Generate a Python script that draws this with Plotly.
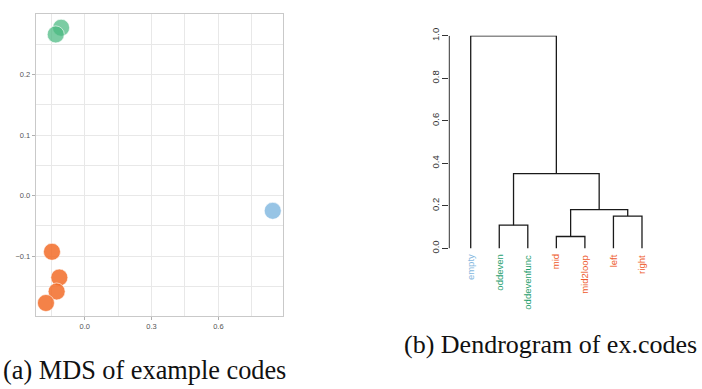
import plotly.graph_objects as go

# ---------------- data: MDS scatter ----------------
mds_x = [-0.106, -0.130, 0.844, -0.147, -0.114, -0.126, -0.174]
mds_y = [0.277, 0.266, -0.025, -0.0925, -0.135, -0.158, -0.177]
mds_group = ["green", "green", "blue", "orange", "orange", "orange", "orange"]

# ---------------- data: dendrogram ----------------
leaf_labels = ["empty", "oddeven", "oddevenfunc", "mid", "mid2loop", "left", "right"]
leaf_group = ["blue", "green", "green", "orange", "orange", "orange", "orange"]
# merges: (left child, right child, height); leaves are "L<i>", clusters "C<j>"
merges = [
    ("L1", "L2", 0.109),
    ("L3", "L4", 0.056),
    ("L5", "L6", 0.152),
    ("C1", "C2", 0.182),
    ("C0", "C3", 0.352),
    ("L0", "C4", 1.000),
]

point_colors = {"green": "rgba(72,184,128,0.72)", "blue": "rgba(140,190,226,0.9)",
                "orange": "rgba(242,108,40,0.85)"}
label_colors = {"green": "#1fa06e", "blue": "#86b8de", "orange": "#ee5a2c"}

fig = go.Figure()

# scatter
for g in ["green", "blue", "orange"]:
    xs = [x for x, gg in zip(mds_x, mds_group) if gg == g]
    ys = [y for y, gg in zip(mds_y, mds_group) if gg == g]
    fig.add_trace(go.Scatter(x=xs, y=ys, mode="markers", xaxis="x", yaxis="y",
                             marker=dict(size=17, color=point_colors[g],
                                         line=dict(width=1, color="rgba(255,255,255,0.6)")),
                             showlegend=False, hoverinfo="skip"))

# dendrogram segments
pos = {}
hgt = {}
for i in range(len(leaf_labels)):
    pos["L%d" % i] = i + 1
    hgt["L%d" % i] = 0.0
seg_x, seg_y = [], []
for j, (a, b, h) in enumerate(merges):
    xa, xb = pos[a], pos[b]
    seg_x += [xa, xa, xb, xb, None]
    seg_y += [hgt[a], h, h, hgt[b], None]
    pos["C%d" % j] = (xa + xb) / 2
    hgt["C%d" % j] = h

fig.add_trace(go.Scatter(x=seg_x, y=seg_y, mode="lines", xaxis="x2", yaxis="y2",
                         line=dict(color="#1a1a1a", width=1.3), showlegend=False,
                         hoverinfo="skip"))

W, H = 702, 389

def px(v):
    return v / W

def py(v):
    return 1 - v / H

grid_c = "#e8e8e8"
tick_font = dict(family="Liberation Sans, Arial", size=7.5, color="#555555")
fig.update_layout(
    width=W, height=H, margin=dict(l=0, r=0, t=0, b=0),
    plot_bgcolor="white", paper_bgcolor="white",
    xaxis=dict(domain=[px(35.7), px(283)], range=[-0.22, 0.89],
               tickvals=[0.0, 0.3, 0.6], ticktext=["0.0", "0.3", "0.6"],
               showgrid=True, gridcolor=grid_c, gridwidth=1,
               minor=dict(tickvals=[-0.15, 0.15, 0.45, 0.75], showgrid=True,
                          gridcolor=grid_c, gridwidth=1, ticks=""),
               showline=True, mirror=True, linecolor="#c9c9c9", linewidth=1,
               ticks="outside", ticklen=3, tickcolor="#b0b0b0",
               tickfont=tick_font, zeroline=False, anchor="y"),
    yaxis=dict(domain=[py(319), py(6)], range=[-0.199, 0.300],
               tickvals=[-0.1, 0.0, 0.1, 0.2], ticktext=["\u22120.1", "0.0", "0.1", "0.2"],
               showgrid=True, gridcolor=grid_c, gridwidth=1,
               minor=dict(tickvals=[-0.15, -0.05, 0.05, 0.15, 0.25], showgrid=True,
                          gridcolor=grid_c, gridwidth=1, ticks=""),
               showline=True, mirror=True, linecolor="#c9c9c9", linewidth=1,
               ticks="outside", ticklen=3, tickcolor="#b0b0b0",
               tickfont=tick_font, zeroline=False, anchor="x"),
    xaxis2=dict(domain=[px(449.3), px(663.4)], range=[0.25, 7.75],
                showgrid=False, showticklabels=False, ticks="", showline=False,
                zeroline=False, anchor="y2"),
    yaxis2=dict(domain=[py(248.7), py(28.7)], range=[0, 1],
                tickvals=[0, 0.2, 0.4, 0.6, 0.8, 1.0],
                ticktext=["0.0", "0.2", "0.4", "0.6", "0.8", "1.0"],
                tickangle=-90, ticks="outside", ticklen=6, tickcolor="#333",
                tickwidth=1, showgrid=False, showline=False, zeroline=False,
                tickfont=dict(family="Liberation Sans, Arial", size=9.5, color="#333"),
                anchor="x2"),
)

# R-style axis line for dendrogram (0 to 1)
fig.add_shape(type="line", xref="x2 domain", yref="y2", x0=0, x1=0, y0=0, y1=1,
              line=dict(color="#333", width=1))

# leaf labels
for i, (lab, g) in enumerate(zip(leaf_labels, leaf_group)):
    fig.add_annotation(x=i + 1, y=0, xref="x2", yref="y2", text=lab, showarrow=False,
                       textangle=-90, xanchor="center", yanchor="top", yshift=-4,
                       font=dict(family="Liberation Sans, Arial", size=9.5,
                                 color=label_colors[g]))

# captions
fig.add_annotation(x=px(1), y=py(375), xref="paper", yref="paper",
                   text="(a) MDS of example codes", showarrow=False,
                   xanchor="left", yanchor="middle",
                   font=dict(family="Liberation Serif, Times New Roman", size=26.3,
                             color="#111"))
fig.add_annotation(x=px(699), y=py(348), xref="paper", yref="paper",
                   text="(b) Dendrogram of ex.codes", showarrow=False,
                   xanchor="right", yanchor="middle",
                   font=dict(family="Liberation Serif, Times New Roman", size=26,
                             color="#111"))

fig.write_html("out.html", config={"displayModeBar": False},
               post_script="document.body.style.margin='0';document.body.style.overflow='hidden';")
